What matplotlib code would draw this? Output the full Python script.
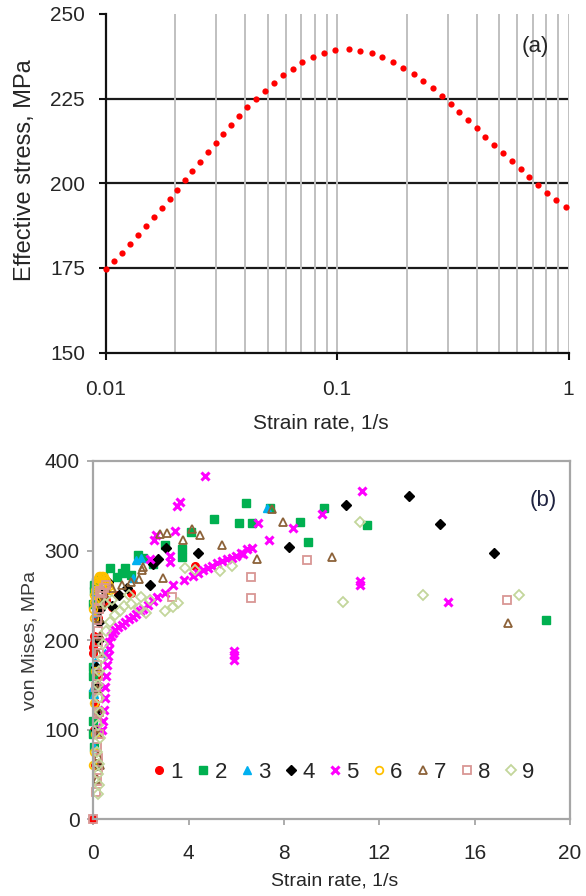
import matplotlib
matplotlib.use("Agg")
import matplotlib.pyplot as plt
from matplotlib.ticker import NullFormatter

plt.rcParams['font.family'] = ['Liberation Sans', 'DejaVu Sans']

# (a) effective stress vs strain rate
rate_a = [0.01, 0.01086, 0.0118, 0.01277, 0.01383, 0.01497, 0.01618, 0.0175, 0.0189, 0.0203,
          0.0219, 0.0237, 0.0256, 0.0277, 0.0299, 0.0322, 0.0349, 0.0378, 0.0409, 0.0446,
          0.0487, 0.0532, 0.0584, 0.0643, 0.0708, 0.0787, 0.0875, 0.0980, 0.1125, 0.1259,
          0.1411, 0.1567, 0.1744, 0.1933, 0.2144, 0.2359, 0.2590, 0.2839, 0.3096, 0.3375,
          0.3679, 0.4011, 0.4367, 0.4762, 0.5196, 0.5686, 0.6194, 0.6750, 0.7359, 0.8054,
          0.8836, 0.9722]
stress_a = [174.8, 177.0, 179.5, 182.1, 184.7, 187.3, 190.1, 192.7, 195.5, 198.1,
            200.9, 203.6, 206.4, 209.2, 211.9, 214.6, 217.2, 219.9, 222.5, 224.9,
            227.4, 229.7, 231.9, 233.8, 235.7, 237.3, 238.6, 239.5, 239.6, 239.2,
            238.4, 237.4, 235.9, 234.1, 232.3, 230.2, 228.1, 225.8, 223.5, 221.2,
            218.7, 216.3, 213.8, 211.3, 208.9, 206.5, 204.1, 201.8, 199.4, 197.2,
            195.0, 192.9]
yticks_a = [150, 175, 200, 225, 250]

# (b) von Mises vs strain rate, nine series
x1 = [0.0, 0.0, 0.0, 0.02, 0.05, 0.08, 0.12, 0.2, 0.35, 0.55, 0.77, 1.03, 1.6, 4.27, 0.03, 0.06]
y1 = [0, 186, 192, 197, 205, 130, 160, 225, 240, 245, 237, 250, 252, 283, 100, 60]

x2 = [0.0, 0.0, 0.0, 0.0, 0.0, 0.03, 0.0, 0.02, 0.05, 0.1, 0.2, 0.28, 0.4, 0.7, 1.0, 1.2,
      1.33, 1.6, 1.89, 2.1, 2.5, 3.0, 3.73, 3.73, 4.1, 5.07, 6.12, 6.4, 6.64, 7.4, 8.67,
      9.0, 9.7, 11.5, 19.0]
y2 = [95, 110, 140, 160, 170, 80, 240, 255, 262, 265, 262, 269, 270, 280, 270, 275,
      280, 273, 295, 292, 285, 306, 302, 293, 321, 335, 331, 353, 331, 347, 332,
      310, 348, 329, 222]

x3 = [0.02, 0.05, 0.08, 0.1, 0.15, 0.3, 0.49, 1.68, 1.78, 2.0, 7.27, 0.0]
y3 = [80, 140, 175, 250, 230, 262, 185, 269, 289, 292, 347, 147]

x4 = [0.1, 0.15, 0.18, 0.2, 0.22, 0.25, 0.3, 0.35, 0.5, 0.6, 0.77, 1.08, 1.4, 2.4, 2.52,
      2.73, 3.05, 4.38, 8.22, 10.6, 13.24, 14.54, 16.82, 0.12]
y4 = [170, 60, 118, 150, 200, 220, 235, 245, 255, 265, 238, 250, 258, 262, 285,
      291, 303, 297, 304, 351, 361, 330, 297, 100]

x5 = [0.38, 0.42, 0.45, 0.48, 0.5, 0.53, 0.56, 0.6, 0.64, 0.68, 0.74, 0.82, 0.92, 1.05,
      1.2, 1.35, 1.5, 1.65, 1.8, 1.95, 2.1, 2.3, 2.5, 2.66, 3.0, 3.36, 3.8, 4.2, 4.4, 4.6,
      4.8, 5.0, 5.2, 5.4, 5.6, 5.8, 6.0, 6.2, 6.45,
      4.69, 3.64, 3.5, 3.43, 2.63, 3.22, 3.22, 2.4, 7.38, 6.92, 8.36, 9.58, 11.26, 11.2,
      11.2, 5.9, 5.9, 5.9, 14.89, 6.64, 6.29, 2.55]
y5 = [100, 110, 122, 135, 148, 160, 172, 182, 190, 198, 204, 208, 211, 214,
      217, 220, 223, 226, 229, 232, 235, 239, 244, 248, 252, 261, 267, 272, 275, 278,
      280, 283, 286, 288, 290, 292, 294, 297, 302,
      383, 354, 350, 322, 317, 294, 287, 290, 312, 331, 325, 341, 367, 266,
      261, 178, 183, 188, 242, 303, 296, 312]

x6 = [0.0, 0.02, 0.05, 0.08, 0.1, 0.12, 0.15, 0.2, 0.25, 0.3, 0.35, 0.4, 0.45, 0.5, 0.55,
      0.6, 0.65, 0.7, 0.05, 0.1, 0.0, 0.05, 0.08, 0.03, 0.06]
y6 = [235, 242, 250, 256, 260, 263, 266, 269, 271, 272, 272, 271, 270, 268, 266,
      263, 260, 256, 225, 245, 60, 75, 95, 130, 165]

x7 = [0.15, 0.2, 0.18, 0.22, 0.16, 0.25, 0.2, 0.3, 0.24, 0.35, 0.5, 0.8, 1.2, 1.93, 2.04,
      2.1, 2.8, 2.94, 3.08, 3.75, 4.13, 4.48, 5.38, 6.88, 7.48, 7.94, 10.03, 17.41, 0.28, 1.6]
y7 = [45, 70, 95, 120, 145, 165, 185, 205, 225, 240, 250, 258, 262, 268, 278,
      282, 318, 269, 320, 312, 324, 317, 306, 290, 346, 332, 293, 219, 60, 265]

x8 = [0.0, 0.12, 0.15, 0.18, 0.2, 0.14, 0.22, 0.17, 0.25, 0.19, 0.13, 0.21, 0.16, 0.24,
      0.18, 0.2, 0.15, 0.23, 0.28, 0.35, 0.45, 0.55, 0.3, 3.29, 6.6, 6.6, 8.98, 17.34]
y8 = [0, 30, 42, 55, 68, 80, 95, 108, 120, 135, 148, 160, 172, 185,
      198, 210, 222, 235, 245, 252, 258, 262, 255, 248, 270, 247, 289, 245]

x9 = [0.18, 0.22, 0.2, 0.25, 0.17, 0.28, 0.21, 0.3, 0.24, 0.19, 0.26, 0.35, 0.4, 0.55,
      0.7, 0.9, 1.1, 1.3, 1.6, 1.9, 2.2, 2.4, 3.0, 3.35, 3.55, 3.85, 4.27, 5.3, 5.8,
      10.46, 11.19, 13.84, 17.87, 0.5, 0.8, 1.5, 2.0]
y9 = [28, 38, 50, 62, 75, 90, 105, 120, 135, 150, 165, 180, 195, 210,
      220, 228, 232, 238, 240, 236, 230, 245, 232, 237, 241, 281, 278, 277, 283,
      243, 332, 250, 250, 240, 245, 250, 248]

series_x = [x1, x2, x3, x4, x5, x6, x7, x8, x9]
series_y = [y1, y2, y3, y4, y5, y6, y7, y8, y9]
series_names = ['1', '2', '3', '4', '5', '6', '7', '8', '9']

# marker style for each series: (marker, colour, filled)
styles = [('o', '#ff0000', True), ('s', '#00b050', True), ('^', '#00b0f0', True),
          ('D', '#000000', True), ('x', '#ff00ff', True), ('o', '#ffc000', False),
          ('^', '#8c6239', False), ('s', '#d99694', False), ('D', '#c3d69b', False)]

txt = '#262626'
fig = plt.figure(figsize=(5.86, 8.96), dpi=100)

# ---- panel (a)
ax1 = fig.add_axes([0.1804, 0.6064, 0.790, 0.378])
ax1.plot(rate_a, stress_a, 'o', color='red', ms=4.5, mec='none', zorder=3, clip_on=False)
ax1.set_xscale('log')
ax1.set_xlim(0.01, 1)
ax1.set_ylim(150, 250)
ax1.set_yticks(yticks_a)
ax1.set_xticks([0.01, 0.1, 1])
ax1.set_xticklabels(['0.01', '0.1', '1'])
ax1.xaxis.set_minor_formatter(NullFormatter())
ax1.grid(axis='x', which='both', color='#c0c0c0', lw=1.4)
for v in yticks_a[1:-1]:
    ax1.axhline(v, color='#1a1a1a', lw=1.6, zorder=1)
ax1.spines['top'].set_visible(False)
ax1.spines['right'].set_visible(False)
for s in ['left', 'bottom']:
    ax1.spines[s].set_linewidth(1.6)
    ax1.spines[s].set_color('#111111')
ax1.tick_params(axis='both', which='major', length=5, width=1.5, colors='#111111',
                labelsize=15, labelcolor=txt)
ax1.tick_params(axis='y', pad=10)
ax1.tick_params(axis='x', pad=15)
ax1.tick_params(axis='x', which='minor', length=0)
ax1.set_xlabel('Strain rate, 1/s', fontsize=15, color=txt)
ax1.set_ylabel('Effective stress, MPa', fontsize=17, color=txt)
ax1.xaxis.set_label_coords(0.465, -0.18)
ax1.yaxis.set_label_coords(-0.15, 0.539)
ax1.text(0.928, 0.903, '(a)', transform=ax1.transAxes, fontsize=16, color=txt,
         ha='center', va='center')

# ---- panel (b)
ax2 = fig.add_axes([0.1592, 0.0859, 0.8135, 0.3996])
for xs, ys, name, (mk, col, filled) in zip(series_x, series_y, series_names, styles):
    if mk == 'x':
        ax2.plot(xs, ys, 'x', color=col, ms=5.5, mew=2.2, ls='none', label=name, clip_on=False)
    elif filled:
        ax2.plot(xs, ys, mk, color=col, ms=5.5 if mk != 'D' else 4.8, mec=col, ls='none',
                 label=name, clip_on=False)
    else:
        ax2.plot(xs, ys, mk, mfc='none', mec=col, ms=5.5 if mk != 'D' else 4.8, mew=1.3,
                 ls='none', label=name, clip_on=False)
ax2.set_xlim(0, 20)
ax2.set_ylim(0, 400)
ax2.set_xticks([0, 4, 8, 12, 16, 20])
ax2.set_yticks([0, 100, 200, 300, 400])
for s in ax2.spines.values():
    s.set_color('#a6a6a6')
    s.set_linewidth(1.6)
ax2.tick_params(axis='both', length=4, width=1.3, colors='#a6a6a6', labelsize=15,
                labelcolor=txt)
ax2.tick_params(axis='y', pad=6)
ax2.tick_params(axis='x', pad=14)
ax2.set_xlabel('Strain rate, 1/s', fontsize=14, color=txt)
ax2.set_ylabel('von Mises, MPa', fontsize=14, color='#3a3a3a')
ax2.xaxis.set_label_coords(0.507, -0.15)
ax2.yaxis.set_label_coords(-0.115, 0.5)
ax2.text(0.943, 0.891, '(b)', transform=ax2.transAxes, fontsize=16, color='#1f2340',
         ha='center', va='center')
ax2.legend(loc='center', bbox_to_anchor=(0.525, 0.131), ncol=9, frameon=False,
           fontsize=16, handlelength=0.6, handletextpad=0.2,
           columnspacing=0.62, borderaxespad=0, labelcolor=txt)

fig.savefig('out.png', dpi=100)
